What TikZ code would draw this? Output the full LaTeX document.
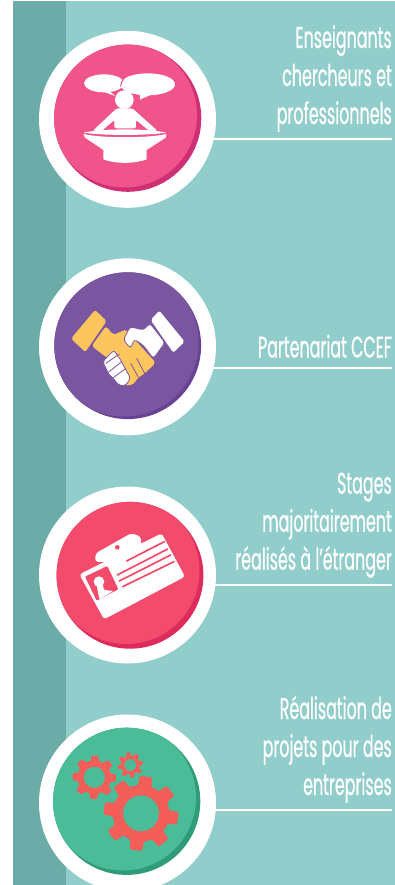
\documentclass[tikz,border=0pt]{standalone}
\usepackage{fontspec}
\setmainfont[FakeStretch=0.53,FakeBold=0.5]{Poppins}
\definecolor{teal1}{HTML}{90CDCB}
\definecolor{teal2}{HTML}{6BABA8}
\definecolor{pk}{HTML}{F0548A}
\definecolor{pkd}{HTML}{CE2F75}
\definecolor{pu}{HTML}{7B56A0}
\definecolor{pud}{HTML}{674295}
\definecolor{rd}{HTML}{F34B6B}
\definecolor{rdd}{HTML}{DD2C5C}
\definecolor{gr}{HTML}{4ABC98}
\definecolor{grd}{HTML}{2F9B78}
\definecolor{yl}{HTML}{FDC55D}
\definecolor{gearc}{HTML}{F35E59}
\tikzset{
  ring/.style={circle,fill=white,minimum size=177pt,inner sep=0pt},
  rule/.style={draw=white,line width=2pt},
  lbl/.style={text=white,align=right,anchor=south east,inner sep=0pt,font=\fontsize{30}{38}\selectfont},
}
\newcommand{\gearshape}[7]{% cx cy hole root tip teeth start
  \pgfmathsetmacro{\gStep}{360/#6}
  \pgfmathsetmacro{\gAng}{#7}
  \xdef\gPath{({#1+#4*cos(\gAng)},{#2-#4*sin(\gAng)})}
  \foreach \i in {1,...,#6}{
    \pgfmathsetmacro{\gAng}{(\i-1)*\gStep+#7}
    \pgfmathsetmacro{\gB}{\gAng+0.14*\gStep}
    \pgfmathsetmacro{\gC}{\gAng+0.24*\gStep}
    \pgfmathsetmacro{\gD}{\gAng+0.66*\gStep}
    \pgfmathsetmacro{\gE}{\gAng+0.76*\gStep}
    \pgfmathsetmacro{\gF}{\gAng+\gStep}
    \xdef\gPath{\gPath
      -- ({#1+#4*cos(\gB)},{#2-#4*sin(\gB)})
      -- ({#1+#5*cos(\gC)},{#2-#5*sin(\gC)})
      -- ({#1+#5*cos(\gD)},{#2-#5*sin(\gD)})
      -- ({#1+#4*cos(\gE)},{#2-#4*sin(\gE)})}
    \ifnum\i<#6\relax
      \xdef\gPath{\gPath -- ({#1+#4*cos(\gF)},{#2-#4*sin(\gF)})}
    \fi
  }
  \fill[gearc,even odd rule,rounded corners=1.2pt] \gPath -- cycle (#1,#2) circle [radius=#3];
}
\begin{document}
\begin{tikzpicture}[x=1pt,y=-1pt]
\useasboundingbox (0,0) rectangle (395,885);
\fill[white] (0,0) rectangle (395,885);
\fill[teal1] (12.5,1) rectangle (395,885);
\fill[teal2] (12.5,1) rectangle (65.5,885);
% rules
\coordinate (e1) at (392,139.5);
\coordinate (e2) at (392,367.5);
\coordinate (e3) at (392,585);
\coordinate (e4) at (392,810);
\node[ring] (c1) at (127.5,119.3) {};
\node[ring] (c2) at (127.5,346.8) {};
\node[ring] (c3) at (127.5,575) {};
\node[ring] (c4) at (127.5,803) {};
\draw[rule] (c1.center |- e1) ++(84,0) -- (e1);
\draw[rule] (c2.center |- e2) ++(84,0) -- (e2);
\draw[rule] (c3.center |- e3) ++(85,0) -- (e3);
\draw[rule] (c4.center |- e4) ++(85,0) -- (e4);
% discs
\begin{scope}
  \fill[pkd] (127.7,118.2) circle (73.6);
  \clip (127.7,118.2) circle (73.6);
  \fill[pk] (124.5,115) circle (72.5);
\end{scope}
\begin{scope}
  \fill[pud] (127.7,345.7) circle (73.4);
  \clip (127.7,345.7) circle (73.4);
  \fill[pu] (124.5,342.5) circle (74);
\end{scope}
\begin{scope}
  \fill[rdd] (130,575.3) circle (73.4);
  \clip (130,575.3) circle (73.4);
  \fill[rd] (126.5,571) circle (73);
\end{scope}
\begin{scope}
  \fill[grd] (126.7,801.3) circle (73.6);
  \clip (126.7,801.3) circle (73.6);
  \fill[gr] (123,797.5) circle (73);
\end{scope}
% icon 1 (reference zoom units)
\begin{scope}[shift={(75,65)},x=0.3333pt,y=-0.3333pt]
  \fill[white] (87,55) ellipse [x radius=60,y radius=27];
  \fill[white] (100,75) -- (120,93) -- (80,78) -- cycle;
  \fill[white] (218,58) ellipse [x radius=82,y radius=33];
  \fill[white] (195,80) -- (195,104) -- (230,88) -- cycle;
  \draw[pk,line width=1pt] (137,65) .. controls (138,45) and (150,33) .. (170,28);
  \draw[pk,line width=1.3pt] (148,104) ++(165:35) arc [start angle=165,end angle=15,radius=35];
  \fill[white] (148,104) circle [radius=28];
  \fill[white,rounded corners=1.5pt] (125,130) -- (172,130) -- (247,197) -- (232,205) -- (183,165) -- (183,190) -- (118,190) -- (118,165) -- (72,205) -- (54,197) -- cycle;
  \fill[white] (26,203) .. controls (80,190) and (220,190) .. (274,203) .. controls (220,212) and (80,212) .. (26,203);
  \fill[white] (25,207) .. controls (80,220) and (220,220) .. (274,207) -- (272,218) -- (215,255) -- (215,283) .. controls (180,297) and (120,297) .. (85,283) -- (85,255) -- (30,218) -- cycle;
\end{scope}
% icon 2
\begin{scope}[shift={(70,300)},x=0.3333pt,y=-0.3333pt]
  \fill[yl,rounded corners=2pt] (3,116) -- (75,30) -- (110,63) -- (46,156) -- cycle;
  \fill[yl,rounded corners=3pt] (108,78) -- (130,105) -- (168,88) -- (200,125) -- (257,188) -- (240,205) -- (222,222) -- (205,232) -- (190,253) -- (165,258) -- (150,200) -- (100,165) -- (65,138) -- cycle;
  \fill[white,draw=pu,line width=0.8pt,rounded corners=3pt] (132,150) -- (98,185) -- (108,205) -- (115,222) -- (130,235) -- (145,255) -- (165,258) -- (182,235) -- (165,205) -- (155,185) -- cycle;
  \draw[pu,line width=0.8pt] (108,190) -- (148,162) (115,217) -- (155,185) (130,233) -- (168,205);
  \draw[pu,line width=0.8pt] (205,232) -- (182,190) (225,222) -- (200,175);
  \fill[white,draw=pu,line width=0.8pt,rounded corners=3pt] (240,70) -- (285,128) -- (250,176) -- (220,136) -- (193,118) -- (182,145) -- (160,120) -- (180,80) -- (220,90) -- cycle;
  \fill[white,rounded corners=2pt] (242,60) -- (268,32) -- (344,125) -- (310,158) -- cycle;
\end{scope}
% icon 3
\begin{scope}[shift={(30,480)},x=0.3333pt,y=-0.3333pt]
  \fill[white,rounded corners=3pt] (195,245) -- (197,220) -- (303,160) -- (330,168) -- (335,185) -- (310,250) -- cycle;
  \fill[white,rounded corners=3pt] (148,283) -- (395,160) -- (465,290) -- (222,418) -- cycle;
  \fill[rd] (262,202) circle [radius=7];
  \fill[rd,rounded corners=1pt] (165,290) -- (232,258) -- (265,328) -- (200,362) -- cycle;
  \fill[white] (207,305) circle [radius=16];
  \fill[white,rounded corners=1pt] (200,315) -- (218,312) -- (222,330) -- (250,333) -- (208,358) -- cycle;
  \draw[rd,line width=1.7pt,line cap=round] (290,243) -- (403,185)
    (262,285) -- (413,207) (268,303) -- (422,225) (278,320) -- (432,245);
\end{scope}
% icon 4
\begin{scope}[shift={(30,705)},x=0.3333pt,y=-0.3333pt]
  \gearshape{333}{325}{54}{85}{113}{8}{17}
  \gearshape{193}{217}{32}{50}{66}{8}{23}
  \gearshape{301}{180}{18}{27}{39}{8}{35}
\end{scope}
% labels
\node[lbl] (t1) at (392,132) {Enseignants\\chercheurs et\\professionnels};
\node[lbl] (t2) at (392,358) {Partenariat CCEF};
\node[lbl] (t3) at (392,578) {Stages\\majoritairement\\réalisés à l’étranger};
\node[lbl] (t4) at (392,803) {Réalisation de\\projets pour des\\entreprises};
\end{tikzpicture}
\end{document}
